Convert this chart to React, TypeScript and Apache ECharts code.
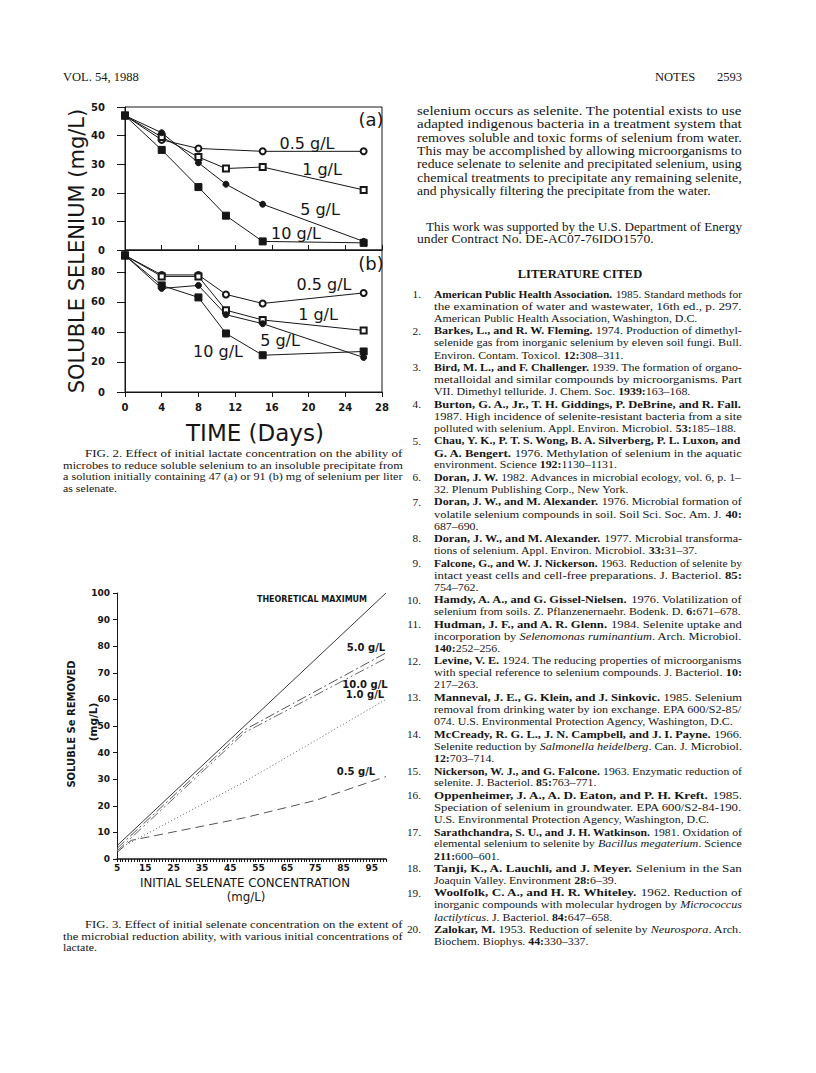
import React, { useEffect, useRef } from 'react';
import * as echarts from 'echarts';

// ---------------- Fig. 2 data ----------------
const days = [0, 4, 8, 11, 15, 26];
const dayTicks = [0, 4, 8, 12, 16, 20, 24, 28];
const panelATicks = [0, 10, 20, 30, 40, 50];
const panelBTicks = [0, 20, 40, 60, 80];
// panel (a): initial 47 mg/L
const a05 = [47, 38.5, 35.5, null, 34.5, 34.5];
const a1 = [47, 39.5, 32.5, 28.5, 29, 21];
const a5 = [47, 41, 30.5, 23, 16, 3];
const a10 = [47, 35, 22, 12, 3, 2.5];
// panel (b): initial 91 mg/L
const b05 = [91, 78, 78, 65, 59, 66];
const b1 = [91, 77, 77, 54.5, 48, 41];
const b5 = [91, 69, 71, 51.5, 45.5, 23];
const b10 = [91, 71, 63, 39, 24.5, 27];

// ---------------- Fig. 3 data ----------------
const selenateTicks = [5, 15, 25, 35, 45, 55, 65, 75, 85, 95];
const removedTicks = [0, 10, 20, 30, 40, 50, 60, 70, 80, 90, 100];
const theoX = [5, 100];
const theoY = [5, 100];
const g50X = [5, 50, 100];
const g50Y = [4, 48.5, 77.5];
const g100X = [5, 50, 100];
const g100Y = [3, 47.5, 75.5];
const g10X = [5, 50, 100];
const g10Y = [3.5, 29, 60];
const g05X = [5, 10, 50, 75, 100];
const g05Y = [2.5, 7, 15.5, 22, 31];

// ---------------- page text ----------------
const bodyP1 = [
  'selenium occurs as selenite. The potential exists to use',
  'adapted indigenous bacteria in a treatment system that',
  'removes soluble and toxic forms of selenium from water.',
  'This may be accomplished by allowing microorganisms to',
  'reduce selenate to selenite and precipitated selenium, using',
  'chemical treatments to precipitate any remaining selenite,',
  'and physically filtering the precipitate from the water.',
];
const bodyP2 = [
  'This work was supported by the U.S. Department of Energy',
  'under Contract No. DE-AC07-76IDO1570.',
];
const fig2Caption = [
  'FIG. 2. Effect of initial lactate concentration on the ability of',
  'microbes to reduce soluble selenium to an insoluble precipitate from',
  'a solution initially containing 47 (a) or 91 (b) mg of selenium per liter',
  'as selenate.',
];
const fig3Caption = [
  'FIG. 3. Effect of initial selenate concentration on the extent of',
  'the microbial reduction ability, with various initial concentrations of',
  'lactate.',
];
const refs = [
  ['{b|American Public Health Association.} 1985. Standard methods for', 'the examination of water and wastewater, 16th ed., p. 297.', 'American Public Health Association, Washington, D.C.'],
  ['{b|Barkes, L., and R. W. Fleming.} 1974. Production of dimethyl-', 'selenide gas from inorganic selenium by eleven soil fungi. Bull.', 'Environ. Contam. Toxicol. {b|12:}308–311.'],
  ['{b|Bird, M. L., and F. Challenger.} 1939. The formation of organo-', 'metalloidal and similar compounds by microorganisms. Part', 'VII. Dimethyl telluride. J. Chem. Soc. {b|1939:}163–168.'],
  ['{b|Burton, G. A., Jr., T. H. Giddings, P. DeBrine, and R. Fall.}', '1987. High incidence of selenite-resistant bacteria from a site', 'polluted with selenium. Appl. Environ. Microbiol. {b|53:}185–188.'],
  ['{b|Chau, Y. K., P. T. S. Wong, B. A. Silverberg, P. L. Luxon, and}', '{b|G. A. Bengert.} 1976. Methylation of selenium in the aquatic', 'environment. Science {b|192:}1130–1131.'],
  ['{b|Doran, J. W.} 1982. Advances in microbial ecology, vol. 6, p. 1–', '32. Plenum Publishing Corp., New York.'],
  ['{b|Doran, J. W., and M. Alexander.} 1976. Microbial formation of', 'volatile selenium compounds in soil. Soil Sci. Soc. Am. J. {b|40:}', '687–690.'],
  ['{b|Doran, J. W., and M. Alexander.} 1977. Microbial transforma-', 'tions of selenium. Appl. Environ. Microbiol. {b|33:}31–37.'],
  ['{b|Falcone, G., and W. J. Nickerson.} 1963. Reduction of selenite by', 'intact yeast cells and cell-free preparations. J. Bacteriol. {b|85:}', '754–762.'],
  ['{b|Hamdy, A. A., and G. Gissel-Nielsen.} 1976. Volatilization of', 'selenium from soils. Z. Pflanzenernaehr. Bodenk. D. {b|6:}671–678.'],
  ['{b|Hudman, J. F., and A. R. Glenn.} 1984. Selenite uptake and', 'incorporation by {i|Selenomonas ruminantium}. Arch. Microbiol.', '{b|140:}252–256.'],
  ['{b|Levine, V. E.} 1924. The reducing properties of microorganisms', 'with special reference to selenium compounds. J. Bacteriol. {b|10:}', '217–263.'],
  ['{b|Manneval, J. E., G. Klein, and J. Sinkovic.} 1985. Selenium', 'removal from drinking water by ion exchange. EPA 600/S2-85/', '074. U.S. Environmental Protection Agency, Washington, D.C.'],
  ['{b|McCready, R. G. L., J. N. Campbell, and J. I. Payne.} 1966.', 'Selenite reduction by {i|Salmonella heidelberg}. Can. J. Microbiol.', '{b|12:}703–714.'],
  ['{b|Nickerson, W. J., and G. Falcone.} 1963. Enzymatic reduction of', 'selenite. J. Bacteriol. {b|85:}763–771.'],
  ['{b|Oppenheimer, J. A., A. D. Eaton, and P. H. Kreft.} 1985.', 'Speciation of selenium in groundwater. EPA 600/S2-84-190.', 'U.S. Environmental Protection Agency, Washington, D.C.'],
  ['{b|Sarathchandra, S. U., and J. H. Watkinson.} 1981. Oxidation of', 'elemental selenium to selenite by {i|Bacillus megaterium}. Science', '{b|211:}600–601.'],
  ['{b|Tanji, K., A. Lauchli, and J. Meyer.} Selenium in the San', 'Joaquin Valley. Environment {b|28:}6–39.'],
  ['{b|Woolfolk, C. A., and H. R. Whiteley.} 1962. Reduction of', 'inorganic compounds with molecular hydrogen by {i|Micrococcus}', '{i|lactilyticus}. J. Bacteriol. {b|84:}647–658.'],
  ['{b|Zalokar, M.} 1953. Reduction of selenite by {i|Neurospora}. Arch.', 'Biochem. Biophys. {b|44:}330–337.'],
];

const SERIF = '"Liberation Serif", "Times New Roman", serif';
const SANS = '"DejaVu Sans", sans-serif';
const INK = '#161616';

let measureCtx: CanvasRenderingContext2D | null = null;
function getCtx() {
  if (!measureCtx) measureCtx = document.createElement('canvas').getContext('2d');
  return measureCtx as CanvasRenderingContext2D;
}
function parseRuns(line: string): [string, string][] {
  const out: [string, string][] = [];
  const re = /\{([bi])\|([^}]*)\}/g;
  let last = 0;
  let m: RegExpExecArray | null;
  while ((m = re.exec(line))) {
    if (m.index > last) out.push(['r', line.slice(last, m.index)]);
    out.push([m[1], m[2]]);
    last = re.lastIndex;
  }
  if (last < line.length) out.push(['r', line.slice(last)]);
  return out;
}
function textWidth(line: string, size: number, family: string) {
  const ctx = getCtx();
  let w = 0;
  for (const [k, t] of parseRuns(line)) {
    ctx.font = `${k === 'i' ? 'italic ' : ''}${k === 'b' ? 'bold ' : ''}${size}px ${family}`;
    w += ctx.measureText(t).width;
  }
  return w;
}
// natural lines are widened slightly, as the scanned type runs wider than Liberation Serif
const NATURAL_STRETCH = 1.05;
function serifLine(line: string, x: number, y: number, size: number, target: number | null, align = 'left', stretch = 1) {
  let sx = stretch;
  if (target) {
    const nat = textWidth(line, size, SERIF);
    if (nat > 0) sx = Math.max(0.85, Math.min(1.2, target / nat));
  }
  return {
    type: 'text', x, y, scaleX: sx, silent: true, z: 10,
    style: {
      text: line, fontFamily: SERIF, fontSize: size, fill: INK,
      align, verticalAlign: 'middle',
      rich: {
        b: { fontFamily: SERIF, fontSize: size, fontWeight: 'bold', fill: INK },
        i: { fontFamily: SERIF, fontSize: size, fontStyle: 'italic', fill: INK },
      },
    },
  };
}
function block(lines: string[], x0: number, x1: number, y0: number, dy: number, size: number, indent = 0) {
  return lines.map((ln, i) => {
    const x = x0 + (i === 0 ? indent : 0);
    const target = x1 - x;
    const isLast = i === lines.length - 1;
    const nat = textWidth(ln, size, SERIF) * NATURAL_STRETCH;
    const t = !isLast || nat > target ? target : null;
    return serifLine(ln, x, y0 + i * dy, size, t, 'left', NATURAL_STRETCH);
  });
}
function sansText(text: string, x: number, y: number, size: number, opts: any = {}) {
  return {
    type: 'text', x, y, silent: true, z: 10, rotation: opts.rotation || 0,
    style: {
      text, fontFamily: SANS, fontSize: size, fontWeight: opts.weight || 'normal', fill: INK,
      align: opts.align || 'center', verticalAlign: 'middle',
    },
  };
}

function buildGraphics() {
  const els: any[] = [];
  // running head
  els.push(serifLine('VOL. 54, 1988', 63, 77, 12.5, null));
  els.push(serifLine('NOTES', 655, 77, 12.5, null));
  els.push(serifLine('2593', 742, 77, 12.5, null, 'right'));

  // right column body
  els.push(...block(bodyP1, 417, 742, 110.7, 13.3, 13));
  els.push(...block(bodyP2, 417, 742, 226.5, 12.5, 13, 9));
  els.push({
    type: 'text', x: 580, y: 274, silent: true, z: 10,
    style: { text: 'LITERATURE CITED', fontFamily: SERIF, fontSize: 12.5, fontWeight: 'bold', fill: INK, align: 'center', verticalAlign: 'middle' },
  });

  // references
  let li = 0;
  refs.forEach((lines, r) => {
    const y0 = 294 + li * 12.22;
    els.push({
      type: 'text', x: 421, y: y0, silent: true, z: 10,
      style: { text: `${r + 1}.`, fontFamily: SERIF, fontSize: 11.3, fill: INK, align: 'right', verticalAlign: 'middle' },
    });
    els.push(...block(lines, 434, 742, y0, 12.22, 11.3));
    li += lines.length;
  });

  // captions
  els.push(...block(fig2Caption, 63, 403, 453, 11.7, 11.3, 22));
  els.push(...block(fig3Caption, 63, 403, 924, 11.8, 11.3, 22));

  // ---- Fig. 2 texts ----
  els.push(sansText('SOLUBLE SELENIUM (mg/L)', 77, 251, 21, { rotation: Math.PI / 2 }));
  els.push(sansText('TIME (Days)', 255, 433, 23));
  els.push(sansText('(a)', 371, 119, 18));
  els.push(sansText('(b)', 371, 263, 18));
  els.push(sansText('0.5 g/L', 307, 143, 16));
  els.push(sansText('1 g/L', 322, 169, 16));
  els.push(sansText('5 g/L', 320, 209, 16));
  els.push(sansText('10 g/L', 296, 233, 16));
  els.push(sansText('0.5 g/L', 324, 284, 16));
  els.push(sansText('1 g/L', 318, 314, 16));
  els.push(sansText('5 g/L', 280, 340, 16));
  els.push(sansText('10 g/L', 218, 351, 16));

  // ---- Fig. 3 texts ----
  els.push(sansText('SOLUBLE Se REMOVED', 71.5, 724, 10, { rotation: Math.PI / 2, weight: 'bold' }));
  els.push(sansText('(mg/L)', 93, 722, 10.5, { rotation: Math.PI / 2, weight: 'bold' }));
  els.push(sansText('INITIAL SELENATE CONCENTRATION', 245, 883, 11.8));
  els.push(sansText('(mg/L)', 246, 897, 11.8));
  els.push(sansText('THEORETICAL MAXIMUM', 312, 599, 8, { weight: 'bold' }));
  els.push(sansText('5.0 g/L', 366, 647, 10, { weight: 'bold' }));
  els.push(sansText('10.0 g/L', 365, 684, 10, { weight: 'bold' }));
  els.push(sansText('1.0 g/L', 365, 694, 10, { weight: 'bold' }));
  els.push(sansText('0.5 g/L', 356, 771, 10, { weight: 'bold' }));
  return els;
}

function pairs(xs: number[], ys: (number | null)[]) {
  const out: number[][] = [];
  xs.forEach((x, i) => { if (ys[i] !== null && ys[i] !== undefined) out.push([x, ys[i] as number]); });
  return out;
}

function fig2Series(data: (number | null)[], g: number, symbol: string, size: number) {
  return {
    type: 'line', xAxisIndex: g, yAxisIndex: g, data: pairs(days, data),
    symbol, symbolSize: size, showSymbol: true, silent: true, z: 3,
    lineStyle: { color: INK, width: 1 },
    itemStyle: { color: INK, borderColor: INK, borderWidth: 1 },
  };
}
function fig3Series(xs: number[], ys: number[], type: any, color: string, width = 1) {
  return {
    type: 'line', xAxisIndex: 2, yAxisIndex: 2, data: pairs(xs, ys),
    symbol: 'none', showSymbol: false, silent: true, z: 3,
    lineStyle: { color, width, type },
  };
}

function buildOption() {
  const axisLine = { show: true, lineStyle: { color: INK, width: 1 } };
  const tick = (len: number, inside = false) => ({ show: true, inside, length: len, lineStyle: { color: INK, width: 1 } });
  const lbl = (size: number, margin: number, list: number[]) => ({
    show: true, fontFamily: SANS, fontSize: size, fontWeight: 'bold', color: INK, margin,
    formatter: (v: number) => (list.includes(v) ? String(v) : ''),
  });
  return {
    animation: false,
    backgroundColor: '#ffffff',
    grid: [
      { left: 125, top: 107, width: 257, height: 143, show: true, borderColor: INK, borderWidth: 1, backgroundColor: 'transparent' },
      { left: 125, top: 250, width: 257, height: 142, show: true, borderColor: INK, borderWidth: 1, backgroundColor: 'transparent' },
      { left: 117, top: 593, width: 269, height: 266, show: false },
    ],
    xAxis: [
      { gridIndex: 0, type: 'value', min: 0, max: 28, interval: 4, axisLine, axisTick: tick(5, true), axisLabel: { show: false }, splitLine: { show: false } },
      { gridIndex: 1, type: 'value', min: 0, max: 28, interval: 4, axisLine, axisTick: tick(5), axisLabel: lbl(10, 10, dayTicks), splitLine: { show: false } },
      {
        gridIndex: 2, type: 'value', min: 5, max: 100, interval: 5,
        axisLine: { show: true, lineStyle: { color: INK, width: 1.5 } },
        axisTick: tick(3), minorTick: { show: true, splitNumber: 5, length: 3, lineStyle: { color: INK, width: 1 } },
        axisLabel: lbl(9, 4, selenateTicks), splitLine: { show: false }, minorSplitLine: { show: false },
      },
    ],
    yAxis: [
      { gridIndex: 0, type: 'value', min: 0, max: 50, interval: 10, axisLine, axisTick: tick(8), axisLabel: lbl(10, 20, panelATicks), splitLine: { show: false } },
      { gridIndex: 1, type: 'value', min: 0, max: 94.6, interval: 20, axisLine, axisTick: tick(8), axisLabel: lbl(10, 20, panelBTicks), splitLine: { show: false } },
      { gridIndex: 2, type: 'value', min: 0, max: 100, interval: 10, axisLine, axisTick: tick(4), axisLabel: lbl(9, 7, removedTicks), splitLine: { show: false } },
    ],
    series: [
      fig2Series(a05, 0, 'emptyCircle', 6),
      fig2Series(a1, 0, 'emptyRect', 6),
      fig2Series(a5, 0, 'circle', 6),
      fig2Series(a10, 0, 'rect', 7),
      fig2Series(b05, 1, 'emptyCircle', 6),
      fig2Series(b1, 1, 'emptyRect', 6),
      fig2Series(b5, 1, 'circle', 6),
      fig2Series(b10, 1, 'rect', 7),
      fig3Series(theoX, theoY, 'solid', '#222', 0.9),
      fig3Series(g50X, g50Y, [10, 3, 2, 3], '#555'),
      fig3Series(g100X, g100Y, [10, 3, 2, 3, 2, 3], '#666'),
      fig3Series(g10X, g10Y, [1.2, 2.2], '#777'),
      fig3Series(g05X, g05Y, [9, 5], '#555'),
    ],
    graphic: buildGraphics(),
  };
}

export default function App() {
  const ref = useRef<HTMLDivElement>(null);
  useEffect(() => {
    document.body.style.margin = '0';
    const chart = echarts.init(ref.current as HTMLDivElement, null, { renderer: 'svg' });
    chart.setOption(buildOption() as any);
    return () => chart.dispose();
  }, []);
  return <div ref={ref} style={{ position: 'absolute', left: 0, top: 0, width: 816, height: 1073, background: '#fff' }} />;
}
